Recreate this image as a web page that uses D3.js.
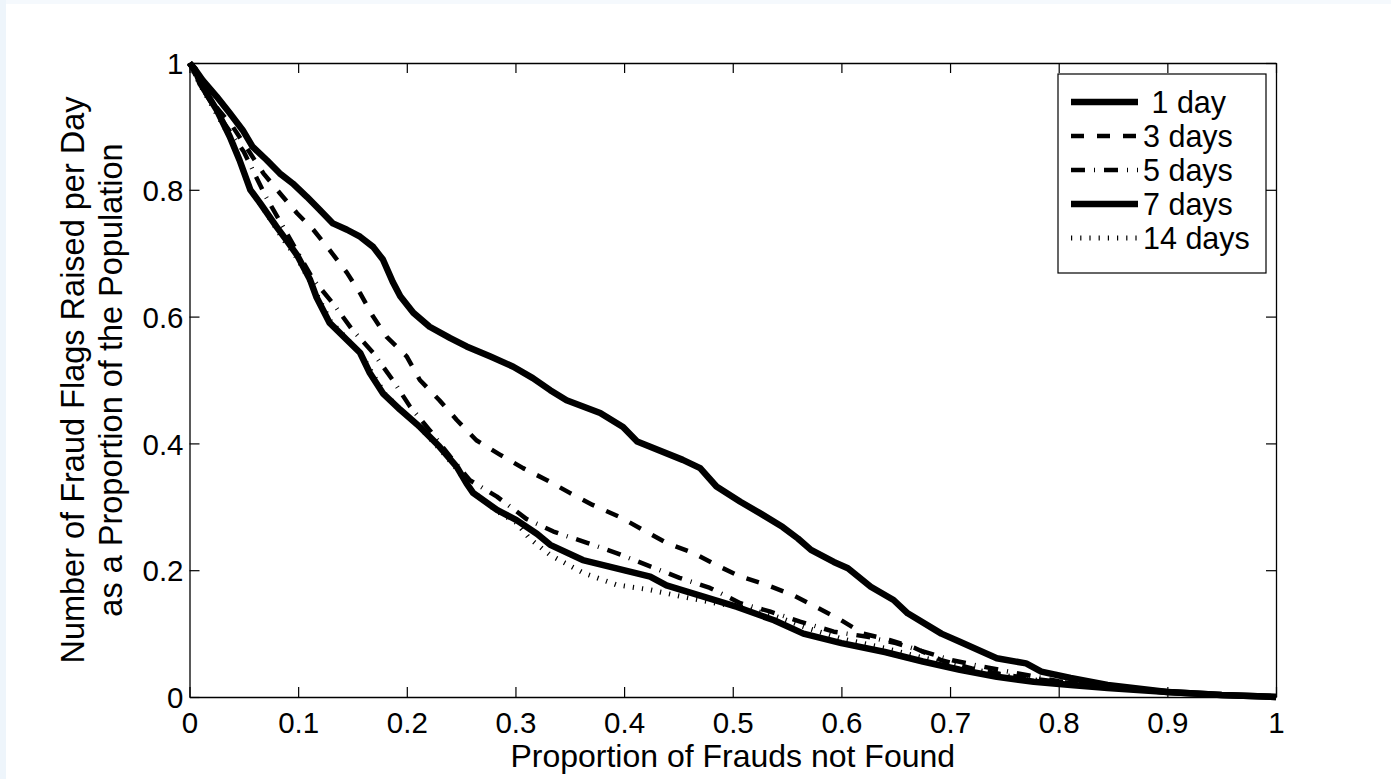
<!DOCTYPE html>
<html>
<head>
<meta charset="utf-8">
<script src="https://cdn.jsdelivr.net/npm/d3@7"></script>
<style>
  html, body { margin: 0; padding: 0; background: #fff; }
  svg { display: block; font-family: "Liberation Sans", Arial, Helvetica, sans-serif; }
</style>
</head>
<body>
<div id="chart"></div>
<script>
// values: [proportion of frauds not found, flags per day]
var day1 = [[0,1],[.005,.99],[.012,.973],[.025,.947],[.037,.921],[.049,.894],[.058,.868],[.071,.847],[.083,.826],[.095,.81],
  [.108,.789],[.12,.768],[.132,.747],[.145,.737],[.157,.726],[.169,.71],[.178,.69],[.187,.655],[.194,.632],[.206,.606],
  [.221,.584],[.24,.566],[.255,.553],[.277,.537],[.298,.521],[.316,.503],[.332,.484],[.347,.468],[.378,.448],[.399,.426],
  [.412,.403],[.454,.374],[.47,.361],[.485,.332],[.507,.308],[.525,.29],[.546,.268],[.56,.25],[.572,.232],[.593,.213],
  [.606,.203],[.627,.174],[.648,.153],[.661,.132],[.692,.1],[.709,.087],[.743,.061],[.77,.053],[.784,.04],[.811,.03],
  [.845,.019],[.9,.008],[.95,.003],[1,0]];
var day3 = [[0,1],[.01,.97],[.025,.93],[.04,.899],[.068,.826],[.083,.795],[.099,.763],[.114,.737],[.129,.705],[.145,.669],
  [.157,.637],[.169,.6],[.1815,.568],[.2,.537],[.212,.5],[.23,.468],[.246,.437],[.264,.405],[.286,.382],[.307,.361],
  [.329,.342],[.35,.322],[.371,.303],[.396,.284],[.418,.263],[.439,.243],[.464,.227],[.485,.208],[.507,.19],[.531,.177],
  [.555,.161],[.579,.14],[.6,.121],[.62,.1],[.644,.09],[.668,.077],[.692,.058],[.72,.045],[.75,.035],[.78,.028],
  [.811,.022],[.85,.015],[.9,.008],[.95,.003],[1,0]];
var day5 = [[0,1],[.01,.965],[.03,.91],[.05,.86],[.07,.79],[.09,.73],[.1,.7],[.114,.658],[.132,.621],[.15,.579],
  [.169,.543],[.187,.5],[.203,.458],[.221,.421],[.24,.379],[.258,.342],[.283,.316],[.31,.281],[.335,.261],[.366,.243],
  [.393,.227],[.424,.206],[.451,.188],[.479,.172],[.507,.148],[.534,.135],[.562,.119],[.593,.103],[.624,.095],[.65,.085],
  [.675,.072],[.702,.058],[.73,.048],[.76,.038],[.8,.025],[.85,.015],[.9,.008],[.95,.003],[1,0]];
var day7 = [[0,1],[.005,.99],[.01,.968],[.025,.926],[.037,.884],[.046,.847],[.056,.8],[.065,.779],[.08,.742],[.089,.721],
  [.099,.697],[.111,.658],[.117,.63],[.129,.59],[.145,.563],[.157,.543],[.166,.511],[.178,.479],[.194,.453],[.212,.426],
  [.23,.395],[.246,.363],[.255,.337],[.261,.322],[.283,.295],[.301,.279],[.32,.257],[.332,.24],[.362,.216],[.393,.203],
  [.424,.19],[.439,.176],[.47,.16],[.504,.142],[.538,.121],[.565,.1],[.6,.085],[.64,.071],[.675,.056],[.709,.043],
  [.743,.032],[.777,.024],[.811,.019],[.845,.014],[.9,.008],[.95,.003],[1,0]];
var day14 = [[0,1],[.01,.965],[.025,.92],[.04,.875],[.056,.8],[.07,.765],[.085,.725],[.1,.69],[.111,.655],[.12,.625],
  [.13,.592],[.145,.565],[.16,.535],[.17,.505],[.18,.478],[.195,.452],[.212,.425],[.23,.392],[.246,.36],[.26,.325],
  [.283,.293],[.301,.275],[.313,.25],[.332,.224],[.362,.196],[.393,.177],[.424,.169],[.454,.158],[.485,.148],[.507,.142],
  [.54,.127],[.57,.108],[.6,.092],[.64,.077],[.675,.062],[.709,.048],[.743,.036],[.777,.027],[.811,.02],[.85,.014],
  [.9,.008],[.95,.003],[1,0]];

var seriesNames = [" 1 day", "3 days", "5 days", "7 days", "14 days"];
var seriesData = [day1, day3, day5, day7, day14];
var xTicks = [0, .1, .2, .3, .4, .5, .6, .7, .8, .9, 1];
var yTicks = [0, .2, .4, .6, .8, 1];
var xLabel = "Proportion of Frauds not Found";
var yLabel = ["Number of Fraud Flags Raised per Day", "as a Proportion of the Population"];

// line styles, in the same order as the series
var styles = [
  {w: 6.5, dash: null},
  {w: 4.5, dash: "13,13"},
  {w: 4.5, dash: "14,9,1,9"},
  {w: 6.5, dash: null},
  {w: 5, dash: "1.2,8"}
];

var width = 1391, height = 779;
var m = {left: 189.5, right: 1276, top: 63, bottom: 697};

var svg = d3.select("#chart").append("svg")
  .attr("width", width)
  .attr("height", height);

svg.append("rect").attr("width", width).attr("height", height).attr("fill", "#fff");
svg.append("rect").attr("width", width).attr("height", 4).attr("fill", "#f5f9fd");
svg.append("rect").attr("width", 6).attr("height", height).attr("fill", "#eef5fb");

var x = d3.scaleLinear().domain([0, 1]).range([m.left, m.right]);
var y = d3.scaleLinear().domain([0, 1]).range([m.bottom, m.top]);
var fmt = d3.format("~g");

svg.append("rect")
  .attr("x", m.left).attr("y", m.top)
  .attr("width", m.right - m.left).attr("height", m.bottom - m.top)
  .attr("fill", "#fff");

// curves
var line = d3.line().x(d => x(d[0])).y(d => y(d[1]));
var curves = svg.append("g").attr("class", "curves");
seriesData.forEach(function(data, i) {
  curves.append("path")
    .datum(data)
    .attr("d", line)
    .attr("fill", "none")
    .attr("stroke", "#000")
    .attr("stroke-width", styles[i].w)
    .attr("stroke-linejoin", "round")
    .attr("stroke-dasharray", styles[i].dash);
});

// axes, ticks pointing in on all four sides
function styleAxis(g) {
  g.selectAll("path.domain").attr("stroke", "#000").attr("stroke-width", 1.3);
  g.selectAll(".tick line").attr("stroke", "#000").attr("stroke-width", 1.2);
}

var xAxis = svg.append("g")
  .attr("transform", "translate(0," + m.bottom + ")")
  .call(d3.axisBottom(x).tickValues(xTicks).tickSize(-10).tickSizeOuter(0).tickFormat(fmt))
  .call(styleAxis);
xAxis.selectAll("text")
  .attr("y", 36).attr("dy", null)
  .style("font-size", "29.5px").attr("fill", "#000");

svg.append("g")
  .attr("transform", "translate(0," + m.top + ")")
  .call(d3.axisTop(x).tickValues(xTicks).tickSize(-10).tickSizeOuter(0).tickFormat(""))
  .call(styleAxis);

var yAxis = svg.append("g")
  .attr("transform", "translate(" + m.left + ",0)")
  .call(d3.axisLeft(y).tickValues(yTicks).tickSize(-10).tickSizeOuter(0).tickFormat(fmt))
  .call(styleAxis);
yAxis.selectAll("text")
  .attr("x", -6).attr("dy", "0.36em")
  .style("font-size", "29.5px").attr("fill", "#000");

svg.append("g")
  .attr("transform", "translate(" + m.right + ",0)")
  .call(d3.axisRight(y).tickValues(yTicks).tickSize(-10).tickSizeOuter(0).tickFormat(""))
  .call(styleAxis);

svg.selectAll(".domain").attr("fill", "none");

// axis titles
svg.append("text")
  .attr("x", (m.left + m.right) / 2).attr("y", 767)
  .attr("text-anchor", "middle")
  .style("font-size", "32px")
  .text(xLabel);

svg.selectAll("text.ylab")
  .data(yLabel)
  .enter().append("text")
  .attr("class", "ylab")
  .attr("transform", (d, i) => "translate(" + (84 + i * 37.5) + "," + ((m.top + m.bottom) / 2) + ") rotate(-90)")
  .attr("text-anchor", "middle")
  .style("font-size", "32.5px")
  .text(d => d);

// legend
var lg = svg.append("g").attr("class", "legend");
lg.append("rect")
  .attr("x", 1058).attr("y", 74)
  .attr("width", 208).attr("height", 199)
  .attr("fill", "#fff").attr("stroke", "#000").attr("stroke-width", 1.2);

var rows = lg.selectAll("g.row")
  .data(seriesNames)
  .enter().append("g")
  .attr("class", "row")
  .attr("transform", (d, i) => "translate(0," + (102 + i * 34) + ")");

rows.append("line")
  .attr("x1", 1071).attr("x2", 1138)
  .attr("stroke", "#000")
  .attr("stroke-width", (d, i) => styles[i].w)
  .attr("stroke-dasharray", (d, i) => styles[i].dash);

rows.append("text")
  .attr("x", 1143).attr("dy", "0.36em")
  .style("font-size", "30.5px")
  .style("white-space", "pre")
  .text(d => d);
</script>
</body>
</html>
